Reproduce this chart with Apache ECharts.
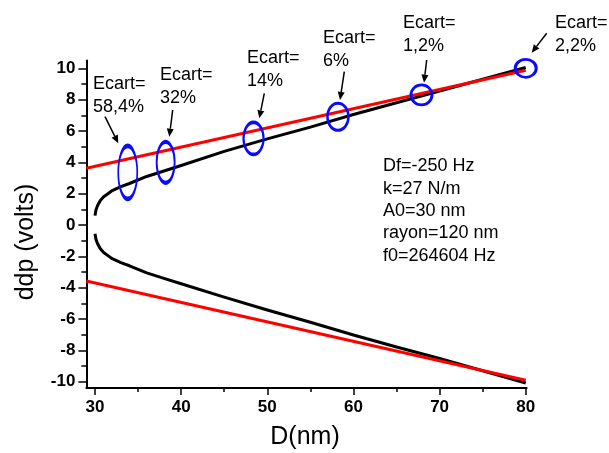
<!DOCTYPE html>
<html><head><meta charset="utf-8">
<script src="https://cdn.jsdelivr.net/npm/echarts@6/dist/echarts.min.js"></script>
<style>html,body{margin:0;padding:0;background:#fff}#c{width:609px;height:453px}</style>
</head><body><div id="c"></div>
<script>
// ---- data ----
const dCurve = [30, 30.1, 30.3, 30.6, 31, 31.5, 32, 33, 34, 36, 38, 40, 45, 50, 55, 60, 65, 70, 75, 80];
const vUpper = [0.6, 0.95, 1.25, 1.55, 1.8, 2.0, 2.2, 2.45, 2.65, 3.1, 3.45, 3.8, 4.7, 5.5, 6.25, 7.05, 7.8, 8.55, 9.3, 10.05];
const vLower = [-0.55, -0.9, -1.2, -1.5, -1.75, -1.95, -2.15, -2.4, -2.6, -3.05, -3.4, -3.75, -4.6, -5.42, -6.2, -7.02, -7.78, -8.52, -9.3, -10.08];
const dFit = [29, 80];
const vFitUpper = [3.62, 9.88];
const vFitLower = [-3.57, -9.9];
const ecartD = [33.8, 38.2, 48.4, 58.2, 67.9, 80];
const ecartV = [3.36, 4.0, 5.53, 6.91, 8.3, 10.0];
const ecartLabels = ['58,4%', '32%', '14%', '6%', '1,2%', '2,2%'];
const xMajorTicks = [30, 40, 50, 60, 70, 80];
const xMinorTicks = [35, 45, 55, 65, 75];
const yMajorTicks = [-10, -8, -6, -4, -2, 0, 2, 4, 6, 8, 10];
const yMinorTicks = [-9, -7, -5, -3, -1, 1, 3, 5, 7, 9];
const paramLines = ['Df=-250 Hz', 'k=27 N/m', 'A0=30 nm', 'rayon=120 nm', 'f0=264604 Hz'];
const xTitle = 'D(nm)';
const yTitle = 'ddp (volts)';

// ---- styles / layout ----
const FONT = '"Liberation Sans", Arial, sans-serif';
const ellipseSizes = [[19, 53], [18, 41], [20, 32], [21, 27], [21, 20], [21, 18]];
const annotTextPos = [[93, 73], [160, 64], [247, 47], [323, 27], [403, 12], [555, 12]];
const arrowPx = [[105, 116.7, 118.3, 143.3], [172.7, 110, 169.3, 136.7], [264.3, 93.3, 259.3, 118.3],
                 [344.3, 71.7, 340, 100], [426.7, 60, 424, 82.7], [546.7, 33.3, 531.7, 52.7]];

const zip = (a, b) => a.map((v, i) => [v, b[i]]);

const graphics = [];
ecartLabels.forEach((lab, i) => {
  graphics.push({type: 'text', x: annotTextPos[i][0], y: annotTextPos[i][1], z: 100,
    style: {text: 'Ecart=\n' + lab, font: '18px ' + FONT, fill: '#000', lineHeight: 23, verticalAlign: 'top'}});
  const [x1, y1, x2, y2] = arrowPx[i];
  const dx = x2 - x1, dy = y2 - y1, L = Math.hypot(dx, dy), ux = dx / L, uy = dy / L;
  const hl = 8, hw = 3.5;
  const bx = x2 - ux * hl, by = y2 - uy * hl;
  graphics.push({type: 'line', z: 100, shape: {x1, y1, x2: bx, y2: by}, style: {stroke: '#000', lineWidth: 1.5}});
  graphics.push({type: 'polygon', z: 100, shape: {points: [[x2, y2], [bx - uy * hw, by + ux * hw], [bx + uy * hw, by - ux * hw]]},
    style: {fill: '#000'}});
});
graphics.push({type: 'text', x: 383, y: 155, z: 100,
  style: {text: paramLines.join('\n'), font: '18px ' + FONT, fill: '#000', lineHeight: 22.4, verticalAlign: 'top'}});
graphics.push({type: 'text', x: 305, y: 425, z: 100,
  style: {text: xTitle, font: '25px ' + FONT, fill: '#000', align: 'center', verticalAlign: 'top'}});
graphics.push({type: 'text', x: 26, y: 242, rotation: Math.PI / 2, z: 100,
  style: {text: yTitle, font: '25px ' + FONT, fill: '#000', align: 'center', verticalAlign: 'middle'}});

const axisLabelStyle = {fontFamily: FONT, fontSize: 17, fontWeight: 'bold', color: '#000'};

const option = {
  animation: false,
  backgroundColor: '#fff',
  grid: {left: 86.4, top: 60.5, width: 440.2, height: 327.5, containLabel: false},
  xAxis: [
    {type: 'value', min: 29, max: 80.1, splitLine: {show: false},
     axisLine: {onZero: false, lineStyle: {color: '#000', width: 2}},
     axisTick: {customValues: xMajorTicks, length: 7, lineStyle: {color: '#000', width: 1.5}},
     axisLabel: Object.assign({customValues: xMajorTicks, margin: 11}, axisLabelStyle)},
    {type: 'value', min: 29, max: 80.1, position: 'bottom', splitLine: {show: false},
     axisLine: {show: false, onZero: false},
     axisTick: {customValues: xMinorTicks, length: 4, lineStyle: {color: '#000', width: 1.5}},
     axisLabel: {show: false}}
  ],
  yAxis: [
    {type: 'value', min: -10.4, max: 10.5, splitLine: {show: false},
     axisLine: {show: true, onZero: false, lineStyle: {color: '#000', width: 2}},
     axisTick: {show: true, customValues: yMajorTicks, length: 8, lineStyle: {color: '#000', width: 1.5}},
     axisLabel: Object.assign({customValues: yMajorTicks, margin: 11}, axisLabelStyle)},
    {type: 'value', min: -10.4, max: 10.5, position: 'left', splitLine: {show: false},
     axisLine: {show: false, onZero: false},
     axisTick: {show: true, customValues: yMinorTicks, length: 5, lineStyle: {color: '#000', width: 1.5}},
     axisLabel: {show: false}}
  ],
  series: [
    {type: 'line', data: zip(dCurve, vUpper), showSymbol: false, smooth: false,
     lineStyle: {color: '#000', width: 3, join: 'round'}, z: 2},
    {type: 'line', data: zip(dCurve, vLower), showSymbol: false, smooth: false,
     lineStyle: {color: '#000', width: 3, join: 'round'}, z: 2},
    {type: 'line', data: zip(dFit, vFitUpper), showSymbol: false, lineStyle: {color: '#ff0000', width: 3}, z: 3},
    {type: 'line', data: zip(dFit, vFitLower), showSymbol: false, lineStyle: {color: '#ff0000', width: 3}, z: 3},
    {type: 'scatter', data: zip(ecartD, ecartV), symbol: 'circle',
     symbolSize: (v, p) => ellipseSizes[p.dataIndex],
     itemStyle: {color: 'rgba(0,0,0,0)', borderColor: '#0a0aff', borderWidth: 2.8, opacity: 1}, z: 4, clip: false}
  ],
  graphic: graphics
};

const chart = echarts.init(document.getElementById('c'), null, {renderer: 'canvas'});
chart.setOption(option);
</script>
</body></html>
